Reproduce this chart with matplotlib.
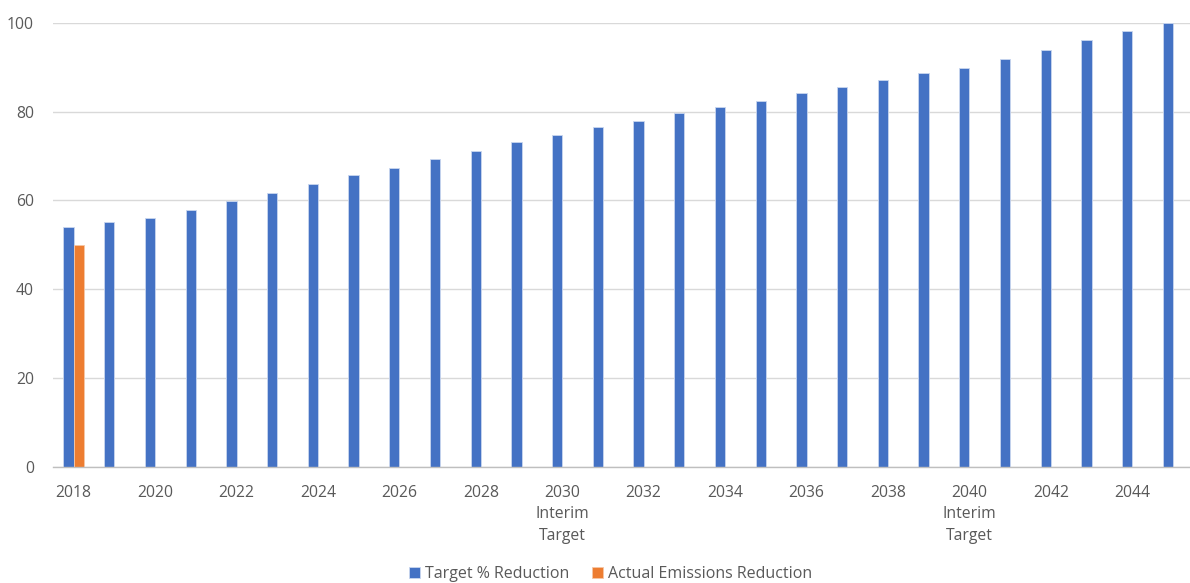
import numpy as np
import matplotlib
matplotlib.use("Agg")
import matplotlib.pyplot as plt

years = list(range(2018, 2046))
target = [54.0, 55.1, 56.1, 57.8, 59.9, 61.6, 63.7, 65.7, 67.3, 69.4,
          71.1, 73.1, 74.8, 76.5, 77.9, 79.7, 81.0, 82.4, 84.1, 85.5,
          87.2, 88.6, 89.9, 91.9, 93.9, 96.1, 98.1, 100.0]
actual = [50.0] + [np.nan] * 27

tick_labels = []
for y in years:
    if (y - 2018) % 2 != 0:
        tick_labels.append("")
    elif y in (2030, 2040):
        tick_labels.append(f"{y}\nInterim\nTarget")
    else:
        tick_labels.append(str(y))

plt.rcParams['font.family'] = ['Open Sans', 'DejaVu Sans']
txt = '#595959'

fig = plt.figure(figsize=(11.9, 5.83), dpi=100)
ax = fig.add_axes([53.3 / 1190, 0.1995, 1140 / 1190, 0.7615])

x = np.arange(len(years))
w = 0.25
ax.bar(x - w / 2, target, width=w, color='#4472C4', edgecolor='#c9d6ef',
       linewidth=0.6, label='Target % Reduction', zorder=3)
ax.bar(x + w / 2, actual, width=w, color='#ED7D31', edgecolor='#f6c7a6',
       linewidth=0.6, label='Actual Emissions Reduction', zorder=3)

ax.set_xlim(-0.5, len(years) - 0.5)
ax.set_ylim(0, 100)
ax.set_yticks(range(0, 101, 20))
ax.yaxis.grid(True, color='#d9d9d9', linewidth=1, zorder=0)
ax.set_xticks(x)
ax.set_xticklabels(tick_labels, linespacing=1.45, va='top')
ax.tick_params(axis='both', length=0, labelsize=11.3, colors=txt)
ax.tick_params(axis='x', pad=13)
ax.tick_params(axis='y', pad=14)

for s in ['top', 'right', 'left']:
    ax.spines[s].set_visible(False)
ax.spines['bottom'].set_color('#bfbfbf')
ax.spines['bottom'].set_linewidth(1)
ax.spines['bottom'].set_zorder(4)

leg = fig.legend(loc='center', bbox_to_anchor=(0.513, 0.015), ncol=2,
                 frameon=False, fontsize=11.5, handlelength=0.7,
                 handleheight=0.7, handletextpad=0.3, columnspacing=1.4)
for t in leg.get_texts():
    t.set_color(txt)

fig.savefig('out.png', dpi=100)
